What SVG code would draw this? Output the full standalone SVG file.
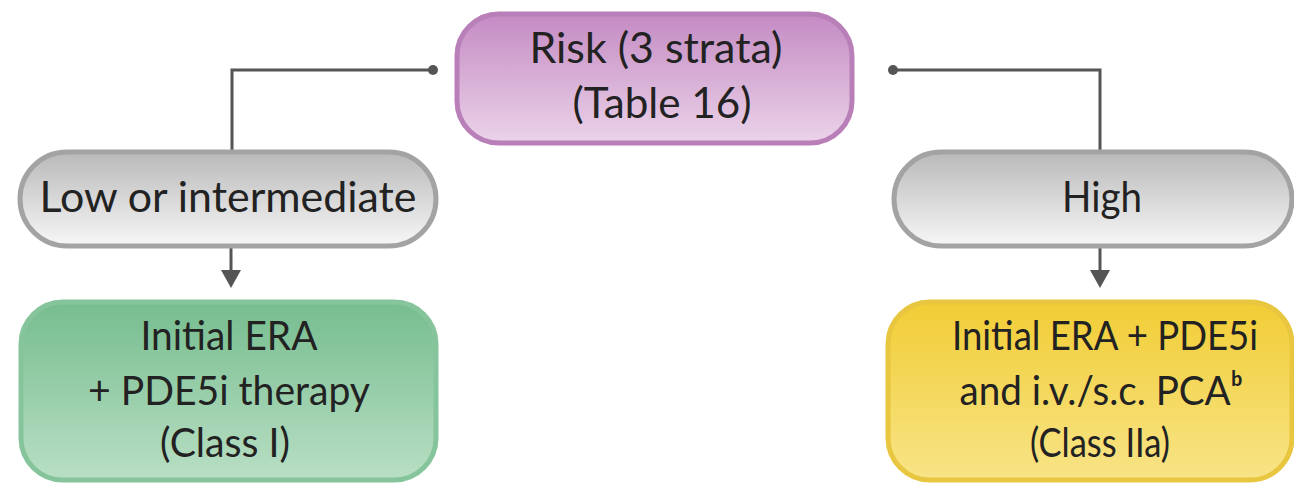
<svg xmlns="http://www.w3.org/2000/svg" width="1294" height="485" viewBox="0 0 1294 485">
<defs>
<linearGradient id="gPurple" x1="0" y1="0" x2="0" y2="1"><stop offset="0" stop-color="#c48bc3"/><stop offset="1" stop-color="#ebd3e9"/></linearGradient>
<linearGradient id="gGray" x1="0" y1="0" x2="0" y2="1"><stop offset="0" stop-color="#b9b9b9"/><stop offset="1" stop-color="#f7f7f7"/></linearGradient>
<linearGradient id="gGreen" x1="0" y1="0" x2="0" y2="1"><stop offset="0" stop-color="#76bd8f"/><stop offset="1" stop-color="#b9dfc4"/></linearGradient>
<linearGradient id="gYellow" x1="0" y1="0" x2="0" y2="1"><stop offset="0" stop-color="#f1cd35"/><stop offset="1" stop-color="#f8e487"/></linearGradient>
<style>
.t{font-family:Lato,"Open Sans","Liberation Sans",sans-serif;fill:#222;text-anchor:middle}
.line{fill:none;stroke:#555;stroke-width:3}
.head{fill:#555}
</style>
</defs>
<g id="connectors">
<path class="line" d="M433,70 H232 V150"/>
<circle cx="433" cy="70" r="5" fill="#555"/>
<path class="line" d="M893,70 H1100 V150"/>
<circle cx="893" cy="70" r="5" fill="#555"/>
<line class="line" x1="231" y1="247" x2="231" y2="272"/>
<path class="head" d="M221,270 L241,270 L231,288 Z"/>
<line class="line" x1="1100" y1="247" x2="1100" y2="272"/>
<path class="head" d="M1090,270 L1110,270 L1100,288 Z"/>
</g>
<g id="risk">
<rect x="457" y="14" width="395" height="129" rx="42" fill="url(#gPurple)" stroke="#b97fb8" stroke-width="5"/>
<text class="t" x="656" y="63" font-size="43" textLength="253" lengthAdjust="spacingAndGlyphs">Risk (3 strata)</text>
<text class="t" x="662" y="118" font-size="43" textLength="179" lengthAdjust="spacingAndGlyphs">(Table 16)</text>
</g>
<g id="low">
<rect x="20" y="152" width="416" height="94" rx="47" fill="url(#gGray)" stroke="#a3a3a3" stroke-width="5"/>
<text class="t" x="228" y="212" font-size="42" textLength="377" lengthAdjust="spacingAndGlyphs">Low or intermediate</text>
</g>
<g id="high">
<rect x="894" y="152" width="398" height="94" rx="47" fill="url(#gGray)" stroke="#a3a3a3" stroke-width="5"/>
<text class="t" x="1102" y="212" font-size="42" textLength="80" lengthAdjust="spacingAndGlyphs">High</text>
</g>
<g id="green">
<rect x="21" y="302" width="415" height="178" rx="42" fill="url(#gGreen)" stroke="#86c59c" stroke-width="5"/>
<text class="t" x="229" y="350" font-size="41" textLength="177" lengthAdjust="spacingAndGlyphs">Initial ERA</text>
<text class="t" x="229" y="405" font-size="41" textLength="282" lengthAdjust="spacingAndGlyphs">+ PDE5i therapy</text>
<text class="t" x="225" y="457" font-size="41" textLength="130" lengthAdjust="spacingAndGlyphs">(Class I)</text>
</g>
<g id="yellow">
<rect x="888" y="302" width="404" height="178" rx="42" fill="url(#gYellow)" stroke="#e9c640" stroke-width="5"/>
<text class="t" x="1105" y="350" font-size="41" textLength="306" lengthAdjust="spacingAndGlyphs">Initial ERA + PDE5i</text>
<text class="t" x="1101" y="405" font-size="41" textLength="283" lengthAdjust="spacingAndGlyphs">and i.v./s.c. PCAᵇ</text>
<text class="t" x="1100" y="457" font-size="41" textLength="140" lengthAdjust="spacingAndGlyphs">(Class IIa)</text>
</g>
</svg>
